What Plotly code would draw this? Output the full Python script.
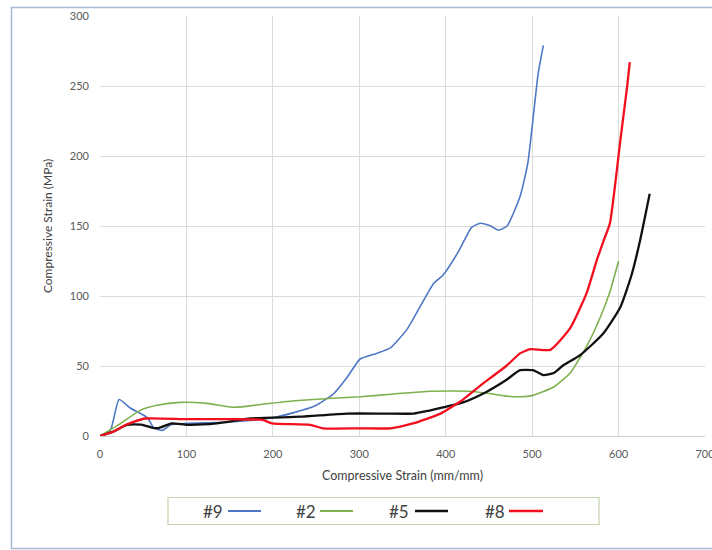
import plotly.graph_objects as go

# Compressive strain (x) and stress (y) readings for each specimen
strain_9 = [0, 12, 22, 35, 55, 62, 72, 82, 100, 150, 200, 247, 270, 286, 301, 320, 336, 355, 370, 386, 397, 415, 430, 440, 452, 461, 471, 486, 495, 507, 513]
stress_9 = [0, 4, 26, 20, 13, 6, 4, 8, 9, 10, 13, 21, 30, 42, 55, 59, 63, 76, 92, 109, 115, 132, 149, 152, 150, 147, 150, 171, 195, 259, 279]

strain_2 = [0, 24, 47, 66, 93, 124, 155, 193, 232, 270, 301, 340, 382, 428, 448, 470, 486, 501, 525, 544, 563, 579, 590, 600]
stress_2 = [0, 9, 18.5, 22, 24, 23.3, 20.5, 23, 25.5, 27, 28, 30, 32, 32, 30.5, 28.5, 28, 29, 35, 45, 64, 85, 103, 125]

strain_5 = [0, 15, 31, 49, 60, 68, 83, 101, 135, 174, 232, 286, 330, 363, 380, 401, 420, 447, 470, 486, 501, 513, 525, 536, 556, 582, 602, 615, 625, 636]
stress_5 = [0, 3, 8, 8, 6, 5.7, 9, 8, 9, 12.5, 13.8, 16, 16, 16, 18, 21, 24, 31.5, 40, 47, 47, 43.5, 45, 50.5, 58, 73, 92, 115, 140, 173]

strain_8 = [0, 15, 30, 52, 100, 150, 188, 199, 243, 258, 300, 336, 362, 394, 420, 440, 470, 486, 498, 521, 544, 563, 575, 583, 590, 602, 610, 613]
stress_8 = [0, 3, 8, 12.5, 12, 12, 11.5, 9, 8, 5.5, 5.5, 5.5, 9, 16, 26, 36, 50, 59, 62, 61.5, 77, 102, 126, 140, 152, 211, 250, 267]

series = [
    ("#9", strain_9, stress_9, "#4f78c4", 1.6),
    ("#2", strain_2, stress_2, "#7fb04f", 1.6),
    ("#5", strain_5, stress_5, "#111111", 2.3),
    ("#8", strain_8, stress_8, "#f3101e", 2.3),
]

x_ticks = [0, 100, 200, 300, 400, 500, 600, 700]
y_ticks = [0, 50, 100, 150, 200, 250, 300]

FONT = "Lato, 'Open Sans', sans-serif"
TICK_COLOR = "#595959"
GRID = "#dcdcdc"

fig = go.Figure()
for name, xs, ys, color, width in series:
    fig.add_trace(go.Scatter(
        x=xs, y=ys, mode="lines", name=name, showlegend=False,
        line=dict(color=color, width=width, shape="spline", smoothing=0.5),
    ))

# plot-area geometry in pixels (used to place the frame and the legend box)
L, R, T, B = 100, 705, 16, 436
W, H = R - L, B - T


def px(x):
    return (x - L) / W


def py(y):
    return (B - y) / H


shapes = [
    # outer chart frame
    dict(type="rect", xref="paper", yref="paper",
         x0=px(11.5), x1=px(714), y0=py(548.5), y1=py(7.5),
         line=dict(color="#a7b8d4", width=1.5), fillcolor="rgba(0,0,0,0)", layer="below"),
    # legend box
    dict(type="rect", xref="paper", yref="paper",
         x0=px(168), x1=px(599), y0=py(524.5), y1=py(497.5),
         line=dict(color="#c3d3ad", width=1.2), fillcolor="rgba(0,0,0,0)"),
]

annotations = []
legend_pos = [(213, 228, 261), (306, 320, 353), (399, 415, 448), (495, 509, 543)]
for (name, xs, ys, color, width), (tx, lx0, lx1) in zip(series, legend_pos):
    annotations.append(dict(
        x=px(tx), y=py(511), xref="paper", yref="paper", text=name, showarrow=False,
        xanchor="center", yanchor="middle",
        font=dict(family=FONT, size=17, color="#404040"),
    ))
    shapes.append(dict(
        type="line", xref="paper", yref="paper",
        x0=px(lx0), x1=px(lx1), y0=py(511), y1=py(511),
        line=dict(color=color, width=width + 0.4),
    ))

fig.update_layout(
    width=712, height=550,
    margin=dict(l=L, r=712 - R, t=T, b=550 - B),
    paper_bgcolor="white", plot_bgcolor="white",
    font=dict(family=FONT, color=TICK_COLOR, size=11),
    shapes=shapes, annotations=annotations,
    xaxis=dict(
        range=[0, 700], tickvals=x_ticks, ticktext=[str(v) for v in x_ticks],
        showgrid=True, gridcolor=GRID, gridwidth=1,
        zeroline=False, showline=True, linecolor="#d0d0d0", linewidth=1,
        ticks="", ticklabelstandoff=8, ticklabeloverflow="allow", automargin=False,
        tickfont=dict(family=FONT, size=11, color=TICK_COLOR),
        title=dict(text="Compressive Strain (mm/mm)", standoff=12,
                   font=dict(family=FONT, size=12.5, color="#404040")),
    ),
    yaxis=dict(
        range=[0, 300], tickvals=y_ticks, ticktext=[str(v) for v in y_ticks],
        showgrid=True, gridcolor=GRID, gridwidth=1,
        zeroline=False, showline=False, automargin=False,
        ticks="", ticklabelstandoff=10,
        tickfont=dict(family=FONT, size=11, color=TICK_COLOR),
        title=dict(text="Compressive Strain (MPa)", standoff=14,
                   font=dict(family=FONT, size=12, color="#404040")),
    ),
)

fig.write_html("out.html")
